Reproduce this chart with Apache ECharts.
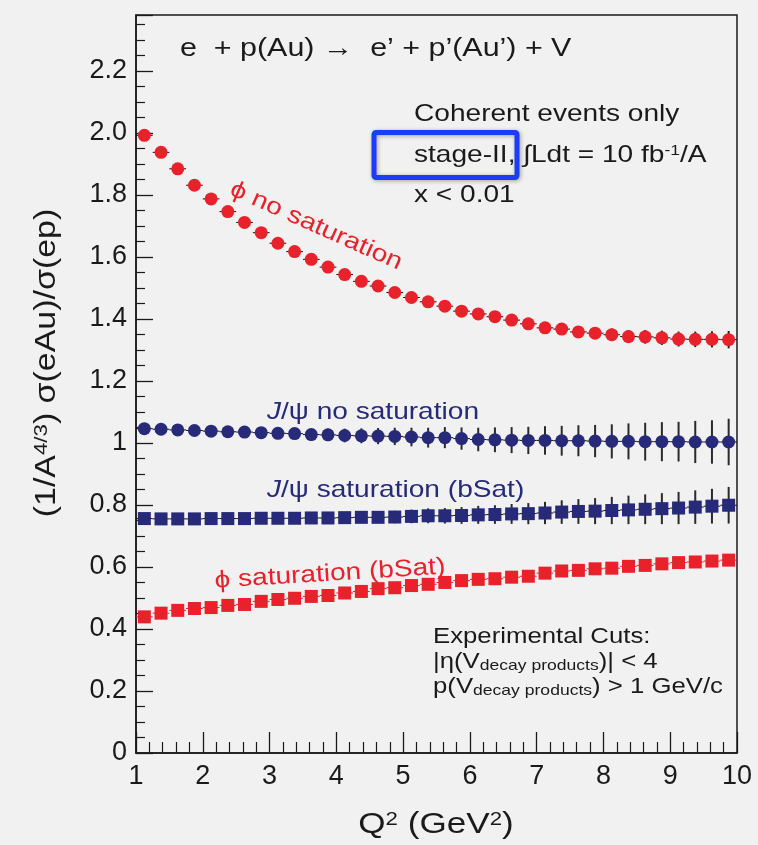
<!DOCTYPE html>
<html>
<head>
<meta charset="utf-8">
<script src="https://cdn.jsdelivr.net/npm/echarts@6/dist/echarts.min.js"></script>
<style>
  html, body { margin: 0; padding: 0; background: #f1f1f1; }
  #chart { width: 758px; height: 845px; }
</style>
</head>
<body>
<div id="chart"></div>
<script>
// Q^2 bin centres (GeV^2), bins of width 0.25
const q2 = [1.125, 1.375, 1.625, 1.875, 2.125, 2.375, 2.625, 2.875, 3.125, 3.375, 3.625, 3.875,
            4.125, 4.375, 4.625, 4.875, 5.125, 5.375, 5.625, 5.875, 6.125, 6.375, 6.625, 6.875,
            7.125, 7.375, 7.625, 7.875, 8.125, 8.375, 8.625, 8.875, 9.125, 9.375, 9.625, 9.875];
const binHalfWidth = 0.125;

// phi, no saturation
const phiNoSat = [1.992, 1.937, 1.884, 1.831, 1.787, 1.746, 1.711, 1.678, 1.644, 1.617, 1.592, 1.567,
                  1.543, 1.521, 1.506, 1.485, 1.469, 1.455, 1.441, 1.425, 1.416, 1.407, 1.396, 1.384,
                  1.371, 1.367, 1.358, 1.354, 1.349, 1.343, 1.342, 1.339, 1.335, 1.334, 1.334, 1.333];
const phiNoSatErr = [0.002, 0.002, 0.002, 0.003, 0.003, 0.003, 0.004, 0.004, 0.005, 0.005, 0.006, 0.006,
                     0.007, 0.007, 0.008, 0.009, 0.009, 0.010, 0.011, 0.011, 0.012, 0.013, 0.014, 0.015,
                     0.016, 0.017, 0.018, 0.019, 0.020, 0.021, 0.022, 0.023, 0.024, 0.025, 0.026, 0.028];

// J/psi, no saturation
const jpsiNoSat = [1.046, 1.044, 1.042, 1.040, 1.038, 1.036, 1.035, 1.033, 1.031, 1.030, 1.027, 1.026,
                   1.024, 1.023, 1.022, 1.021, 1.019, 1.017, 1.017, 1.014, 1.011, 1.010, 1.009, 1.008,
                   1.008, 1.007, 1.007, 1.006, 1.005, 1.005, 1.004, 1.004, 1.004, 1.003, 1.003, 1.003];
const jpsiNoSatErr = [0.004, 0.005, 0.006, 0.007, 0.009, 0.010, 0.012, 0.013, 0.015, 0.017, 0.018, 0.020,
                      0.022, 0.024, 0.026, 0.028, 0.030, 0.032, 0.034, 0.036, 0.038, 0.040, 0.042, 0.044,
                      0.046, 0.048, 0.050, 0.052, 0.055, 0.058, 0.061, 0.063, 0.064, 0.068, 0.070, 0.075];

// J/psi, saturation (bSat)
const jpsiSat = [0.756, 0.755, 0.755, 0.755, 0.756, 0.756, 0.756, 0.757, 0.757, 0.757, 0.758, 0.758,
                 0.759, 0.760, 0.760, 0.761, 0.763, 0.765, 0.765, 0.766, 0.768, 0.769, 0.771, 0.772,
                 0.774, 0.777, 0.779, 0.780, 0.782, 0.784, 0.786, 0.788, 0.790, 0.793, 0.796, 0.799];
const jpsiSatErr = [0.003, 0.004, 0.005, 0.006, 0.007, 0.008, 0.009, 0.010, 0.011, 0.012, 0.013, 0.014,
                    0.016, 0.017, 0.018, 0.020, 0.022, 0.024, 0.025, 0.027, 0.029, 0.030, 0.032, 0.034,
                    0.036, 0.038, 0.040, 0.042, 0.044, 0.046, 0.048, 0.050, 0.052, 0.054, 0.056, 0.059];

// phi, saturation (bSat)
const phiSat = [0.439, 0.451, 0.460, 0.466, 0.469, 0.476, 0.479, 0.489, 0.495, 0.499, 0.505, 0.508,
                0.516, 0.521, 0.530, 0.533, 0.540, 0.544, 0.550, 0.556, 0.560, 0.562, 0.567, 0.570,
                0.580, 0.587, 0.589, 0.594, 0.596, 0.602, 0.605, 0.610, 0.614, 0.616, 0.619, 0.622];
const phiSatErr = [0.001, 0.001, 0.001, 0.001, 0.001, 0.001, 0.002, 0.002, 0.002, 0.002, 0.002, 0.002,
                   0.003, 0.003, 0.003, 0.003, 0.003, 0.003, 0.004, 0.004, 0.004, 0.004, 0.004, 0.004,
                   0.005, 0.005, 0.005, 0.005, 0.005, 0.006, 0.006, 0.006, 0.006, 0.006, 0.007, 0.007];

const xTickLabels = ['1', '2', '3', '4', '5', '6', '7', '8', '9', '10'];
const yTickLabels = ['0', '0.2', '0.4', '0.6', '0.8', '1', '1.2', '1.4', '1.6', '1.8', '2.0', '2.2'];

const FONT = '"Liberation Sans", Arial, Helvetica, sans-serif';
const INK = '#1a1a1a';
const RED = '#e8212b';
const NAVY = '#262a78';
const STRETCH = 1.17;   // Helvetica-like wide rendering of annotation text

function points(values, errors) {
  return q2.map((x, i) => [x, values[i], errors[i]]);
}

function errorBars(name, values, errors, vColor, hColor) {
  return {
    type: 'custom',
    name: name + ' errors',
    z: 2,
    clip: true,
    data: points(values, errors),
    encode: { x: 0, y: 1 },
    renderItem: function (params, api) {
      const x = api.value(0), y = api.value(1), e = api.value(2);
      const left = api.coord([x - binHalfWidth, y]);
      const right = api.coord([x + binHalfWidth, y]);
      const top = api.coord([x, y + e]);
      const bot = api.coord([x, y - e]);
      return {
        type: 'group',
        children: [
          { type: 'line', shape: { x1: left[0], y1: left[1], x2: right[0], y2: right[1] },
            style: { stroke: hColor, lineWidth: 1 } },
          { type: 'line', shape: { x1: top[0], y1: top[1], x2: bot[0], y2: bot[1] },
            style: { stroke: vColor, lineWidth: 2 } }
        ]
      };
    }
  };
}

function markers(name, values, errors, symbol, color, size) {
  return {
    type: 'scatter',
    name: name,
    z: 3,
    symbol: symbol,
    symbolSize: size,
    itemStyle: { color: color, opacity: 1 },
    data: points(values, errors),
    encode: { x: 0, y: 1 },
    emphasis: { disabled: true }
  };
}

function txt(x, y, text, o) {
  o = o || {};
  const size = o.size || 24;
  const color = o.color || INK;
  const base = { fill: color, fontSize: size, fontFamily: FONT };
  const rich = {
    sup: Object.assign({}, base, { fontSize: Math.round(size * 0.64), verticalAlign: 'top', lineHeight: o.supLH || Math.round(size * 0.5) }),
    sub: Object.assign({}, base, { fontSize: Math.round(size * 0.66), verticalAlign: 'bottom', lineHeight: o.subLH || Math.round(size * 0.58) }),
    it: Object.assign({}, base, { fontStyle: 'italic' }),
    n: Object.assign({}, base, { lineHeight: Math.round(size * 1.1) })
  };
  return {
    type: 'text',
    x: x, y: y,
    rotation: o.rotation || 0,
    scaleX: o.stretch || STRETCH,
    z: 100,
    silent: true,
    style: Object.assign({}, base, {
      text: text,
      rich: rich,
      align: o.align || 'left', textAlign: o.align || 'left',
      verticalAlign: 'middle', textVerticalAlign: 'middle'
    })
  };
}

const chart = echarts.init(document.getElementById('chart'), null, { renderer: 'canvas' });

chart.setOption({
  backgroundColor: '#f1f1f1',
  animation: false,
  grid: {
    left: 136, right: 21, top: 15, bottom: 92,
    show: true, borderColor: INK, borderWidth: 1.5, backgroundColor: 'transparent'
  },
  xAxis: {
    type: 'value', min: 1, max: 10, interval: 1,
    axisLine: { lineStyle: { color: INK, width: 1.5 } },
    axisTick: { inside: true, length: 21, lineStyle: { color: INK, width: 1.3 } },
    minorTick: { show: true, splitNumber: 5, length: 11, lineStyle: { color: INK, width: 1.2 } },
    splitLine: { show: false },
    axisLabel: {
      color: INK, fontSize: 27, fontFamily: FONT, margin: 10,
      formatter: v => xTickLabels[Math.round(v) - 1]
    }
  },
  yAxis: {
    type: 'value', min: 0, max: 2.38, interval: 0.2,
    axisLine: { lineStyle: { color: INK, width: 1.5 } },
    axisTick: { inside: true, length: 17, lineStyle: { color: INK, width: 1.3 } },
    minorTick: { show: true, splitNumber: 4, length: 9, lineStyle: { color: INK, width: 1.2 } },
    splitLine: { show: false },
    axisLabel: {
      color: INK, fontSize: 27, fontFamily: FONT, margin: 9, showMaxLabel: false,
      formatter: v => yTickLabels[Math.round(v / 0.2)]
    }
  },
  series: [
    errorBars('phi no saturation', phiNoSat, phiNoSatErr, '#222', '#111'),
    errorBars('J/psi no saturation', jpsiNoSat, jpsiNoSatErr, '#2a2a2a', '#111'),
    errorBars('J/psi saturation', jpsiSat, jpsiSatErr, '#2a2a2a', '#111'),
    errorBars('phi saturation', phiSat, phiSatErr, RED, RED),
    markers('phi no saturation', phiNoSat, phiNoSatErr, 'circle', RED, 13),
    markers('J/psi no saturation', jpsiNoSat, jpsiNoSatErr, 'circle', NAVY, 13),
    markers('J/psi saturation', jpsiSat, jpsiSatErr, 'rect', NAVY, 13),
    markers('phi saturation', phiSat, phiSatErr, 'rect', RED, 13)
  ],
  graphic: {
    elements: [
      txt(180, 49, 'e  + p(Au) \u2192  e\u2019 + p\u2019(Au\u2019) + V', { size: 26 }),
      txt(414, 114, 'Coherent events only', { size: 24 }),
      txt(414, 155, 'stage-II, \u222BLdt = 10 fb{sup|-1}/A', { size: 24 }),
      txt(414, 195, 'x < 0.01', { size: 24 }),
      {
        type: 'rect', z: 101, silent: true,
        shape: { x: 374, y: 132.5, width: 143, height: 45, r: 2 },
        style: { fill: 'none', stroke: '#1d3cf7', lineWidth: 5,
                 shadowBlur: 4, shadowColor: 'rgba(0,0,0,0.35)', shadowOffsetX: 1, shadowOffsetY: 1 }
      },
      txt(316, 226, '\u03D5 no saturation', { size: 24, color: RED, align: 'center', rotation: -24 * Math.PI / 180 }),
      txt(267, 412, '{it|J}/\u03C8 no saturation', { size: 24, color: NAVY }),
      txt(267, 490, '{it|J}/\u03C8 saturation (bSat)', { size: 24, color: NAVY }),
      txt(330, 574, '\u03D5 saturation (bSat)', { size: 24, color: RED, align: 'center', rotation: 3.5 * Math.PI / 180 }),
      txt(433, 637, 'Experimental Cuts:', { size: 22 }),
      txt(433, 662, '|\u03B7(V{sub|decay products})| < 4', { size: 22 }),
      txt(433, 687, 'p(V{sub|decay products}) > 1 GeV/c', { size: 22 }),
      txt(436, 825, 'Q{sup|2} (GeV{sup|2})', { size: 30, align: 'center' }),
      txt(47, 363, '(1/A{sup|4/3}) \u03C3(eAu)/\u03C3(ep)', { size: 29, align: 'center', rotation: Math.PI / 2 })
    ]
  }
});
</script>
</body>
</html>
